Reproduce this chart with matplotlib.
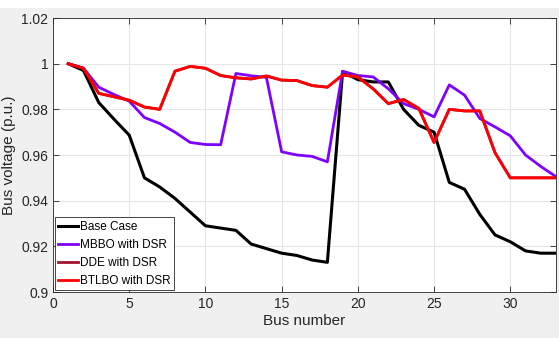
import matplotlib.pyplot as plt
from matplotlib.ticker import FuncFormatter

plt.rcParams['font.family'] = ['Liberation Sans', 'DejaVu Sans']

bus = list(range(1, 34))

base_case = [1.000, 0.997, 0.983, 0.9757, 0.9687, 0.950, 0.946, 0.941, 0.935, 0.929,
             0.928, 0.927, 0.921, 0.919, 0.917, 0.916, 0.914, 0.913, 0.9965, 0.993,
             0.992, 0.992, 0.980, 0.973, 0.970, 0.948, 0.945, 0.934, 0.925, 0.922,
             0.918, 0.917, 0.917]

mbbo = [1.000, 0.998, 0.9897, 0.9865, 0.9836, 0.9764, 0.9738, 0.970, 0.9655, 0.9646,
        0.9645, 0.9957, 0.9947, 0.994, 0.9614, 0.960, 0.9594, 0.957, 0.9967, 0.9948,
        0.9942, 0.989, 0.9825, 0.980, 0.9767, 0.9907, 0.9862, 0.976, 0.9723, 0.9684,
        0.960, 0.955, 0.9505]

# DDE curve lies under the BTLBO curve in the reference
dde = [1.000, 0.998, 0.987, 0.9855, 0.984, 0.981, 0.980, 0.9967, 0.9988, 0.998,
       0.9948, 0.9938, 0.9933, 0.9946, 0.9928, 0.9926, 0.9904, 0.9897, 0.995, 0.9942,
       0.989, 0.9825, 0.9843, 0.9804, 0.9655, 0.980, 0.9793, 0.9793, 0.961, 0.950,
       0.950, 0.950, 0.950]

btlbo = [1.000, 0.998, 0.987, 0.9855, 0.984, 0.981, 0.980, 0.9967, 0.9988, 0.998,
         0.9948, 0.9938, 0.9933, 0.9946, 0.9928, 0.9926, 0.9904, 0.9897, 0.995, 0.9942,
         0.989, 0.9825, 0.9843, 0.9804, 0.9655, 0.980, 0.9793, 0.9793, 0.961, 0.950,
         0.950, 0.950, 0.950]

fig = plt.figure(figsize=(5.59, 3.38), dpi=100, facecolor='#f0f0f0')
# white strip along the top of the figure
fig.patches.append(plt.Rectangle((0, 0.975), 1, 0.025, transform=fig.transFigure,
                                 facecolor='white', edgecolor='none', zorder=-1))
ax = fig.add_axes([53 / 559, 1 - 292 / 338, 503 / 559, 274 / 338])

ax.plot(bus, base_case, color='black', lw=2.2, label='Base Case')
ax.plot(bus, mbbo, color='#7f00ff', lw=2.0, label='MBBO with DSR')
ax.plot(bus, dde, color='#a2142f', lw=2.0, label='DDE with DSR')
ax.plot(bus, btlbo, color='#ff0000', lw=2.0, label='BTLBO with DSR')

ax.set_xlim(0, 33)
ax.set_ylim(0.9, 1.02)
ax.set_xticks([0, 5, 10, 15, 20, 25, 30])
ax.set_yticks([0.9, 0.92, 0.94, 0.96, 0.98, 1.0, 1.02])
ax.yaxis.set_major_formatter(FuncFormatter(lambda v, p: '%g' % round(v, 2)))
ax.tick_params(direction='in', top=True, right=True, labelsize=10,
               colors='#262626', length=4, width=0.6)
ax.grid(True, color='#e6e6e6', lw=0.8)
ax.set_axisbelow(True)
for s in ax.spines.values():
    s.set_color('#262626')
    s.set_linewidth(0.6)

ax.set_xlabel('Bus number', fontsize=11, color='#262626', labelpad=2)
ax.set_ylabel('Bus voltage (p.u.)', fontsize=11, color='#262626', labelpad=4)

leg = ax.legend(loc='lower left', fontsize=8.5, handlelength=1.7, handletextpad=0.15,
                borderaxespad=0.15, borderpad=0.3, labelspacing=0.5,
                fancybox=False, framealpha=1, edgecolor='#262626')
leg.get_frame().set_linewidth(0.6)

fig.savefig('out.png', dpi=100, facecolor=fig.get_facecolor())
